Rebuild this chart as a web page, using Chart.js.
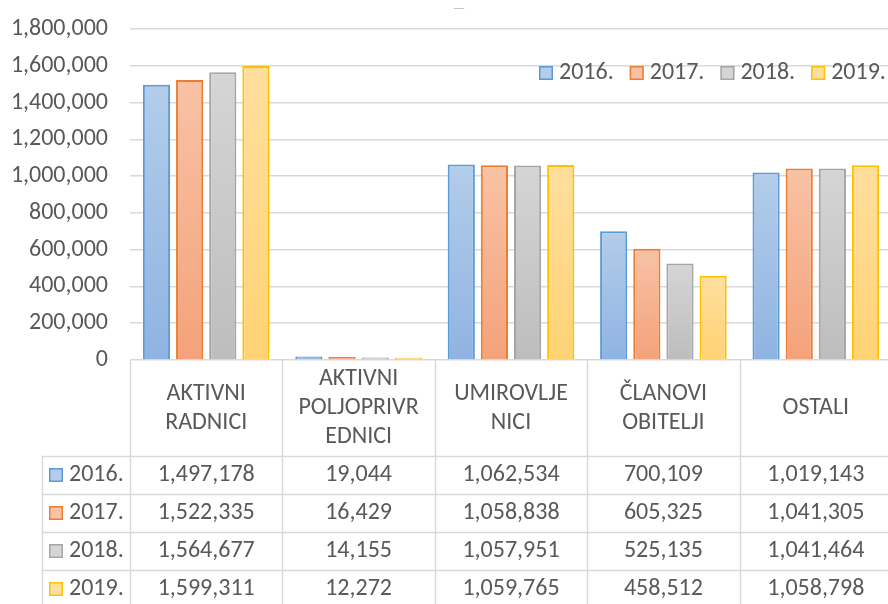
<!DOCTYPE html>
<html>
<head>
<meta charset="utf-8">
<script src="https://cdn.jsdelivr.net/npm/chart.js@4"></script>
<style>
  body { margin: 0; overflow: hidden; background: #fff; }
  #wrap { width: 900px; height: 604px; }
</style>
</head>
<body>
<div id="wrap"><canvas id="myChart"></canvas></div>
<script>
// category names, split the way the table cells wrap them
var categories = [['AKTIVNI', 'RADNICI'], ['AKTIVNI', 'POLJOPRIVR', 'EDNICI'], ['UMIROVLJE', 'NICI'], ['ČLANOVI', 'OBITELJI'], ['OSTALI']];
var years = ['2016.', '2017.', '2018.', '2019.'];
var values2016 = [1497178, 19044, 1062534, 700109, 1019143];
var values2017 = [1522335, 16429, 1058838, 605325, 1041305];
var values2018 = [1564677, 14155, 1057951, 525135, 1041464];
var values2019 = [1599311, 12272, 1059765, 458512, 1058798];
var yMax = 1800000;
var yStep = 200000;

var FONT = 'Carlito, Calibri, Lato, sans-serif';
var SIZE = 24;
var TEXT = '#595959';
var GRID = '#d9d9d9';
var borders = ['#5b9bd5', '#ed7d31', '#a5a5a5', '#ffc000'];
var topFill = ['#b3cdea', '#f8c2a5', '#d5d5d5', '#ffdf9e'];
var bottomFill = ['#8fb3e2', '#f4a27a', '#bdbdbd', '#ffd274'];

function fmt(v) { return Number(v).toLocaleString('en-US'); }

function gradient(i) {
  return function(c) {
    var ch = c.chart;
    if (!ch.chartArea || c.raw === undefined) return bottomFill[i];
    var y = ch.scales.y;
    var y0 = y.getPixelForValue(c.raw), y1 = y.getPixelForValue(0);
    if (y1 - y0 < 1) return bottomFill[i];
    var g = ch.ctx.createLinearGradient(0, y0, 0, y1);
    g.addColorStop(0, topFill[i]);
    g.addColorStop(1, bottomFill[i]);
    return g;
  };
}

var series = [values2016, values2017, values2018, values2019];
var datasets = series.map(function(vals, i) {
  return {
    label: years[i],
    data: vals,
    backgroundColor: gradient(i),
    borderColor: borders[i],
    borderWidth: 2,
    categoryPercentage: 0.87,
    barPercentage: 0.82
  };
});

function key(ctx, x, y, i) {
  ctx.fillStyle = topFill[i];
  ctx.fillRect(x, y, 14, 14);
  ctx.strokeStyle = borders[i];
  ctx.lineWidth = 1.5;
  ctx.strokeRect(x + 0.75, y + 0.75, 12.5, 12.5);
}

var tablePlugin = {
  id: 'dataTable',
  afterDraw: function(chart) {
    var ctx = chart.ctx, a = chart.chartArea;
    var n = categories.length, w = (a.right - a.left) / n;
    var headBottom = 456, rowH = 38, keyLeft = 42, bottom = 620;
    ctx.save();
    ctx.strokeStyle = GRID;
    ctx.lineWidth = 1.5;
    ctx.beginPath();
    for (var i = 0; i <= n; i++) {
      var px = Math.round(a.left + i * w) + 0.5;
      ctx.moveTo(px, a.bottom); ctx.lineTo(px, bottom);
    }
    ctx.moveTo(keyLeft + 0.5, headBottom); ctx.lineTo(keyLeft + 0.5, bottom);
    for (var r = 0; r < years.length; r++) {
      var py = headBottom + r * rowH + 0.5;
      ctx.moveTo(keyLeft, py); ctx.lineTo(a.right, py);
    }
    ctx.stroke();

    ctx.fillStyle = TEXT;
    ctx.font = SIZE + 'px ' + FONT;
    ctx.textAlign = 'center';
    ctx.textBaseline = 'middle';
    var lineH = 29, headMid = (a.bottom + headBottom) / 2;
    categories.forEach(function(lines, c) {
      var cx = a.left + (c + 0.5) * w;
      var y0 = headMid - (lines.length - 1) * lineH / 2;
      lines.forEach(function(t, k) { ctx.fillText(t, cx, y0 + k * lineH); });
      series.forEach(function(vals, s) {
        ctx.fillText(fmt(vals[c]), cx, headBottom + s * rowH + rowH / 2);
      });
    });
    // row keys
    ctx.textAlign = 'left';
    years.forEach(function(yr, s) {
      var cy = headBottom + s * rowH + rowH / 2;
      key(ctx, 49, cy - 7, s);
      ctx.fillStyle = TEXT;
      ctx.fillText(yr, 69, cy);
    });

    // legend inside plot, right aligned
    var x = 539, ly = 73;
    years.forEach(function(yr, s) {
      key(ctx, x, ly - 7, s);
      ctx.fillStyle = TEXT;
      ctx.fillText(yr, x + 20, ly);
      x += 20 + ctx.measureText(yr).width + 16;
    });

    // empty title placeholder
    ctx.textAlign = 'center';
    ctx.font = '14px ' + FONT;
    ctx.fillStyle = '#bfbfbf';
    ctx.fillText('—', 459, 9);
    ctx.restore();
  }
};

window.onload = function() {
  var ctx = document.getElementById('myChart');
  new Chart(ctx, {
    type: 'bar',
    data: { labels: categories, datasets: datasets },
    plugins: [tablePlugin],
    options: {
      responsive: true,
      maintainAspectRatio: false,
      animation: false,
      layout: { padding: { top: 29, right: 8, bottom: 244, left: 0 } },
      plugins: { legend: { display: false }, title: { display: false }, tooltip: { enabled: false } },
      scales: {
        x: { display: false },
        y: {
          min: 0,
          max: yMax,
          ticks: { stepSize: yStep, color: TEXT, font: { family: FONT, size: SIZE }, padding: 0, callback: function(v) { return fmt(v); } },
          grid: { color: GRID, lineWidth: 1.5, drawTicks: true, tickLength: 22, tickColor: 'rgba(0,0,0,0)' },
          border: { display: false },
          afterFit: function(s) { s.width = 130; }
        }
      }
    }
  });
};
</script>
</body>
</html>
